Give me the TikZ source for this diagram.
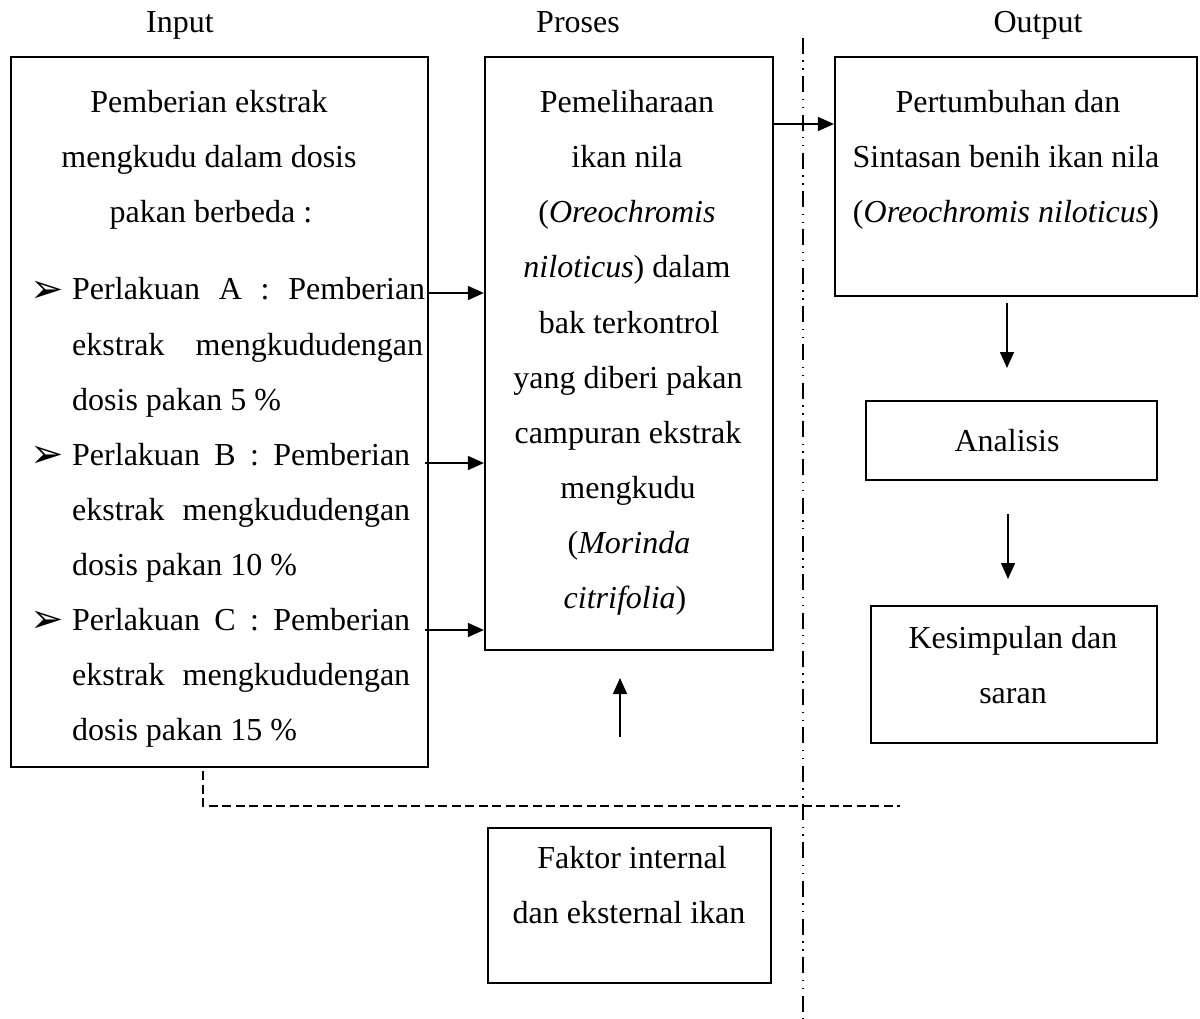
\documentclass[tikz,border=0pt]{standalone}
\usepackage{fontspec}
\setmainfont{Liberation Serif}
\newfontfamily\symfont{DejaVu Sans}
\usetikzlibrary{arrows.meta}
\begin{document}
\begin{tikzpicture}[x=1pt,y=-1pt,
  txt/.style={font=\fontsize{32}{38}\selectfont, inner sep=0pt, anchor=base},
  txtw/.style={txt, anchor=base west},
  bul/.style={font=\symfont\fontsize{40}{44}\selectfont, inner sep=0pt, anchor=center},
  boxthick/.style={draw, line width=2.2pt, rectangle, inner sep=0pt},
  boxthin/.style={draw, line width=1.6pt, rectangle, inner sep=0pt},
  arr/.style={line width=1.5pt, -{Triangle[length=16pt,width=14pt]}},
  dashline/.style={line width=2pt, dash pattern=on 9pt off 4.5pt},
  dashdotdot/.style={line width=1.4pt, dash pattern=on 16pt off 6.5pt on 1.4pt off 6.5pt on 1.4pt off 6.5pt}
]
\useasboundingbox (0,0) rectangle (1200,1019);

% headers
\node[txt] (hin) at (180,33) {Input};
\node[txt] (hpr) at (578,33) {Proses};
\node[txt] (hout) at (1038,33) {Output};

% boxes
\node[boxthick, minimum width=417pt, minimum height=710pt] (inp) at (219.5,412) {};
\node[boxthick, minimum width=288pt, minimum height=593pt] (pro) at (629,353.5) {};
\node[boxthick, minimum width=362pt, minimum height=239pt] (out) at (1016,176.5) {};
\node[boxthick, minimum width=291pt, minimum height=79pt] (ana) at (1011.5,440.5) {};
\node[boxthick, minimum width=286pt, minimum height=137pt] (kes) at (1014,674.5) {};
\node[boxthin, minimum width=283pt, minimum height=155pt] (fak) at (629.5,905.5) {};

% input text
\node[txt] (i1) at (209,113) {Pemberian ekstrak};
\node[txt] (i2) at (209,168) {mengkudu dalam dosis};
\node[txt] (i3) at (211,223) {pakan berbeda :};

\node[bul] (bA) at (47,292) {➢};
\node[txtw] (a1) at (72,300) {\makebox[353pt][s]{Perlakuan A : Pemberian}};
\node[txtw] (a2) at (72,355) {\makebox[351pt][s]{ekstrak mengkududengan}};
\node[txtw] (a3) at (72,410) {dosis pakan 5 \%};

\node[bul] (bB) at (47,457) {➢};
\node[txtw] (b1) at (72,465) {\makebox[338pt][s]{Perlakuan B : Pemberian}};
\node[txtw] (b2) at (72,520) {\makebox[338pt][s]{ekstrak mengkududengan}};
\node[txtw] (b3) at (72,575) {dosis pakan 10 \%};

\node[bul] (bC) at (47,622) {➢};
\node[txtw] (c1) at (72,630) {\makebox[338pt][s]{Perlakuan C : Pemberian}};
\node[txtw] (c2) at (72,685) {\makebox[338pt][s]{ekstrak mengkududengan}};
\node[txtw] (c3) at (72,740) {dosis pakan 15 \%};

% proses text
\node[txt] (p1) at (627,113) {Pemeliharaan};
\node[txt] (p2) at (627,168) {ikan nila};
\node[txt] (p3) at (627,223) {(\textit{Oreochromis}};
\node[txt] (p4) at (627,278) {\textit{niloticus}) dalam};
\node[txt] (p5) at (629,333) {bak terkontrol};
\node[txt] (p6) at (628,388) {yang diberi pakan};
\node[txt] (p7) at (628,443) {campuran ekstrak};
\node[txt] (p8) at (628,498) {mengkudu};
\node[txt] (p9) at (629,553) {(\textit{Morinda}};
\node[txt] (p10) at (625,608) {\textit{citrifolia})};

% output text
\node[txt] (o1) at (1008,113) {Pertumbuhan dan};
\node[txt] (o2) at (1006,168) {Sintasan benih ikan nila};
\node[txt] (o3) at (1006,223) {(\textit{Oreochromis niloticus})};

\node[txt] (an) at (1007,451) {Analisis};
\node[txt] (k1) at (1013,648) {Kesimpulan dan};
\node[txt] (k2) at (1013,703) {saran};

\node[txt] (f1) at (632,868) {Faktor internal};
\node[txt] (f2) at (629,923) {dan eksternal ikan};

% arrows
\coordinate (yo) at (0,124);
\draw[arr] (pro.east |- yo) -- (out.west |- yo);
\coordinate (ya) at (0,293);
\coordinate (yb) at (0,463);
\coordinate (yc) at (0,630);
\draw[arr] (inp.east |- ya) -- (pro.west |- ya);
\draw[arr] ([xshift=-4pt]inp.east |- yb) -- (pro.west |- yb);
\draw[arr] ([xshift=-4pt]inp.east |- yc) -- (pro.west |- yc);

\coordinate (u1) at (620,737);
\coordinate (u2) at (620,678);
\draw[arr] (u1) -- (u2);
\coordinate (d1) at (1007,303);
\coordinate (d2) at (1007,368);
\draw[arr] (d1) -- (d2);
\coordinate (e1) at (1008,514);
\coordinate (e2) at (1008,579);
\draw[arr] (e1) -- (e2);

% dashed line
\coordinate (ds) at (203,771);
\coordinate (dc) at (203,806);
\coordinate (de) at (900,806);
\draw[dashline] (ds) -- (dc) -- (de);

% dash-dot-dot vertical
\coordinate (vt) at (803,38);
\coordinate (vb) at (803,1019);
\draw[dashdotdot] (vt) -- (vb);
\end{tikzpicture}
\end{document}
